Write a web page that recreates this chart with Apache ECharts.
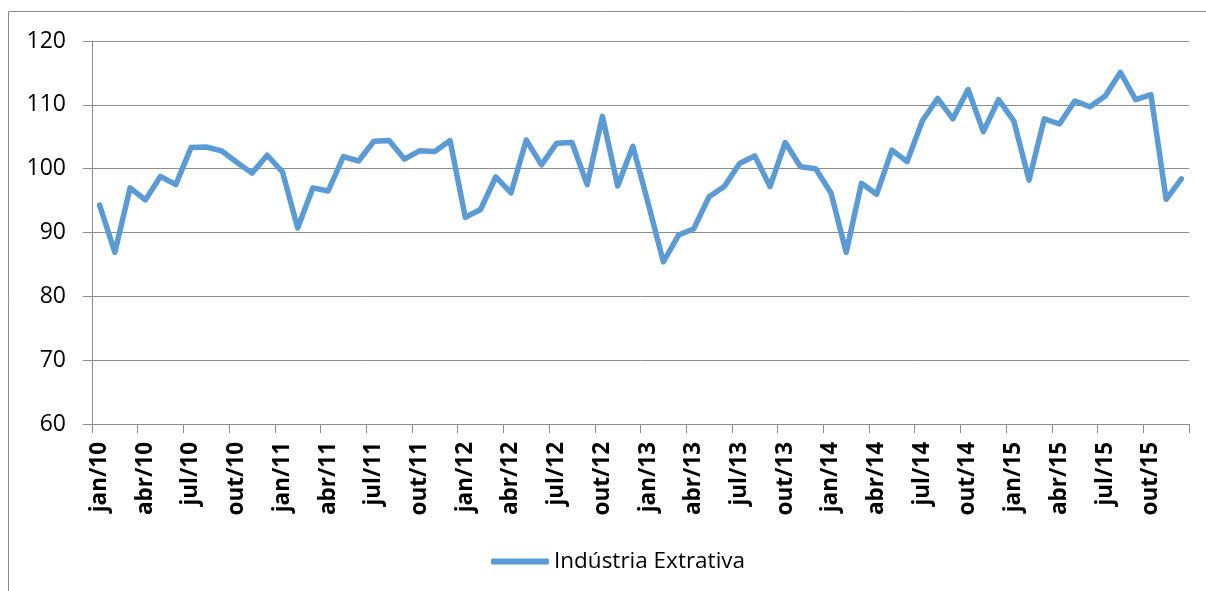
<!DOCTYPE html>
<html>
<head>
<meta charset="utf-8">
<script src="https://cdn.jsdelivr.net/npm/echarts@6/dist/echarts.min.js"></script>
<style>
  html, body { margin: 0; padding: 0; background: #fff; }
  #chart { width: 1206px; height: 591px; }
</style>
</head>
<body>
<div id="chart"></div>
<script>
  const monthNames = ['jan', 'fev', 'mar', 'abr', 'mai', 'jun', 'jul', 'ago', 'set', 'out', 'nov', 'dez'];
  const years = ['10', '11', '12', '13', '14', '15'];
  const months = [];
  years.forEach(y => monthNames.forEach(m => months.push(m + '/' + y)));

  const seriesName = 'Indústria Extrativa';
  const extrativa = [
    94.3, 86.9, 97.0, 95.1, 98.8, 97.5, 103.3, 103.4, 102.8, 101.0, 99.3, 102.1,
    99.5, 90.7, 97.0, 96.5, 101.9, 101.2, 104.3, 104.4, 101.5, 102.8, 102.7, 104.4,
    92.4, 93.6, 98.7, 96.2, 104.5, 100.6, 104.0, 104.1, 97.5, 108.2, 97.3, 103.5,
    94.6, 85.4, 89.6, 90.6, 95.6, 97.2, 100.8, 102.0, 97.2, 104.1, 100.3, 100.0,
    96.2, 86.9, 97.7, 96.0, 102.9, 101.1, 107.5, 111.0, 107.8, 112.4, 105.8, 110.8,
    107.5, 98.2, 107.8, 107.0, 110.6, 109.7, 111.4, 115.1, 110.8, 111.6, 95.2, 98.4
  ];

  const yTicks = { min: 60, max: 120, step: 10 };

  const font = '"Open Sans", "Liberation Sans", sans-serif';
  const gridColor = '#8c8c8c';

  const chart = echarts.init(document.getElementById('chart'));

  chart.setOption({
    animation: false,
    textStyle: { fontFamily: font },
    graphic: [{
      type: 'rect',
      shape: { x: 8.5, y: 11.5, width: 1400, height: 800 },
      style: { fill: 'none', stroke: '#8c8c8c', lineWidth: 1 },
      silent: true
    }],
    grid: { left: 92, right: 17, top: 41, bottom: 167 },
    legend: {
      left: 486,
      top: 545,
      itemWidth: 58,
      itemHeight: 6,
      textStyle: { fontSize: 22.5, color: '#000', fontFamily: font },
      data: [{ name: seriesName, icon: 'roundRect' }]
    },
    xAxis: {
      type: 'category',
      data: months,
      boundaryGap: true,
      axisLine: { lineStyle: { color: gridColor, width: 1 } },
      axisTick: { show: true, interval: 2, length: 9, lineStyle: { color: gridColor } },
      axisLabel: {
        interval: 2,
        rotate: 90,
        margin: 18,
        fontSize: 22.5,
        fontWeight: 'bold',
        color: '#000',
        fontFamily: font
      },
      splitLine: { show: false }
    },
    yAxis: {
      type: 'value',
      min: yTicks.min,
      max: yTicks.max,
      interval: yTicks.step,
      axisLine: { show: true, lineStyle: { color: gridColor, width: 1 } },
      axisTick: { show: true, length: 9, lineStyle: { color: gridColor } },
      axisLabel: { fontSize: 23, color: '#000', margin: 26, fontFamily: font },
      splitLine: { lineStyle: { color: gridColor, width: 1 } }
    },
    series: [{
      name: seriesName,
      type: 'line',
      data: extrativa,
      symbol: 'none',
      lineStyle: { color: '#5b9bd5', width: 5.5, cap: 'round', join: 'round' },
      itemStyle: { color: '#5b9bd5' }
    }]
  });
</script>
</body>
</html>
